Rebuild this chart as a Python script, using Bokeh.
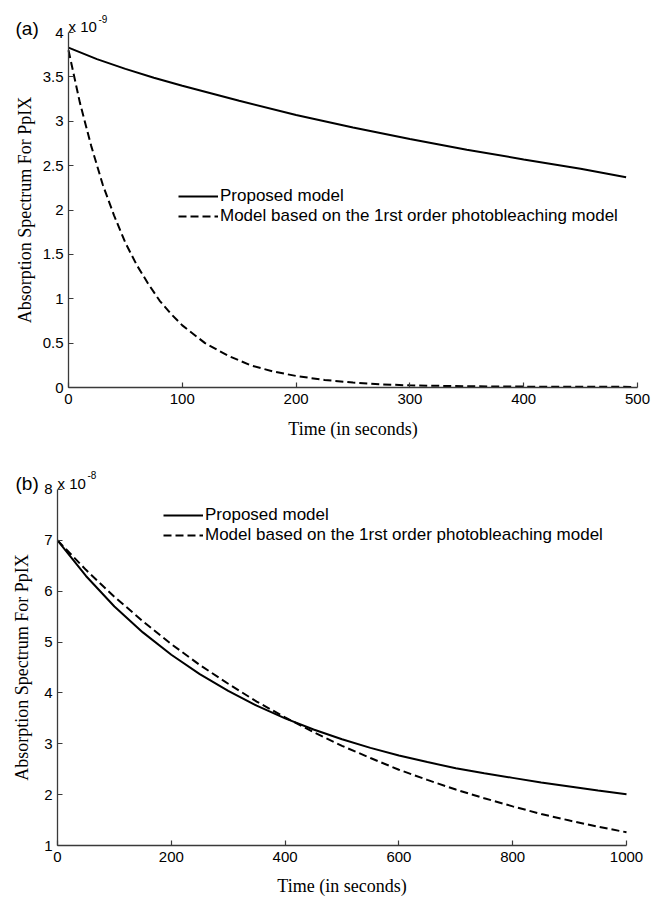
from bokeh.plotting import figure
from bokeh.models import Range1d, FixedTicker, Legend, LegendItem, Label
from bokeh.layouts import column
from bokeh.embed import file_html
from bokeh.resources import INLINE

# ---------------- data ----------------
# Panel (a): absorption spectrum (x 1e-9) vs time (s)
a_time_solid = [0, 25, 50, 75, 100, 150, 200, 250, 300, 350, 400, 450, 490]
a_solid = [3.83, 3.70, 3.59, 3.49, 3.40, 3.23, 3.07, 2.93, 2.80, 2.68, 2.57, 2.465, 2.37]

a_time_dash = [0, 10, 20, 30, 40, 50, 60, 70, 80, 90, 100, 120, 140, 160, 180,
               200, 225, 250, 275, 300, 350, 400, 450, 495]
a_dash = [3.80, 3.21, 2.72, 2.29, 1.94, 1.63, 1.38, 1.17, 0.98, 0.83, 0.70, 0.50,
          0.36, 0.25, 0.18, 0.13, 0.085, 0.055, 0.035, 0.024, 0.014, 0.010, 0.008, 0.007]

# Panel (b): absorption spectrum (x 1e-8) vs time (s)
b_time = [0, 50, 100, 150, 200, 250, 300, 350, 400, 450, 500, 550, 600, 650, 700,
          750, 800, 850, 900, 950, 1000]
b_solid = [7.00, 6.30, 5.70, 5.19, 4.75, 4.37, 4.04, 3.75, 3.50, 3.28, 3.09, 2.92,
           2.77, 2.64, 2.52, 2.42, 2.33, 2.24, 2.16, 2.08, 2.01]
b_dash = [7.00, 6.42, 5.89, 5.41, 4.96, 4.55, 4.18, 3.83, 3.52, 3.23, 2.96, 2.72,
          2.49, 2.29, 2.10, 1.93, 1.77, 1.62, 1.49, 1.37, 1.26]

a_xticks = [0, 100, 200, 300, 400, 500]
a_yticks = [0, 0.5, 1, 1.5, 2, 2.5, 3, 3.5, 4]
a_ylabels = ["0", "0.5", "1", "1.5", "2", "2.5", "3", "3.5", "4"]
b_xticks = [0, 200, 400, 600, 800, 1000]
b_yticks = [1, 2, 3, 4, 5, 6, 7, 8]
b_ylabels = ["1", "2", "3", "4", "5", "6", "7", "8"]

legend_labels = ["Proposed model", "Model based on the 1rst order photobleaching model"]
x_label = "Time (in seconds)"
y_label = "Absorption Spectrum For PpIX"

SANS = "Liberation Sans"
SERIF = "Liberation Serif"
AX = "#3a3a3a"


def style(p, xticks, yticks, ylabels, x0, y0, x_standoff, y_standoff):
    p.grid.visible = False
    p.outline_line_color = None
    p.background_fill_color = "white"
    p.border_fill_color = "white"
    xa, ya = p.xaxis[0], p.yaxis[0]
    for ax in (xa, ya):
        ax.axis_line_color = AX
        ax.axis_line_width = 1.3
        ax.major_tick_line_color = AX
        ax.major_tick_line_width = 1.2
        ax.major_tick_in = 5
        ax.major_tick_out = 0
        ax.minor_tick_in = 0
        ax.minor_tick_out = 0
        ax.major_label_text_font = SANS
        ax.major_label_text_font_size = "15px"
        ax.major_label_text_color = "black"
        ax.axis_label_text_font = SERIF
        ax.axis_label_text_font_size = "18px"
        ax.axis_label_text_font_style = "normal"
        ax.axis_label_text_color = "black"
    xa.ticker = FixedTicker(ticks=xticks)
    xa.major_label_overrides = {t: str(t) for t in xticks}
    xa.major_label_standoff = 6
    xa.axis_label_standoff = x_standoff
    xa.bounds = (xticks[0], xticks[-1])
    xa.fixed_location = y0
    ya.ticker = FixedTicker(ticks=yticks)
    ya.major_label_overrides = {t: s for t, s in zip(yticks, ylabels)}
    ya.major_label_standoff = 5
    ya.axis_label_standoff = y_standoff
    ya.bounds = (yticks[0], yticks[-1])
    ya.fixed_location = x0
    xa.axis_label = x_label
    ya.axis_label = y_label


def add_legend(p, r1, r2, loc):
    leg = Legend(items=[LegendItem(label=legend_labels[0], renderers=[r1]),
                        LegendItem(label=legend_labels[1], renderers=[r2])],
                 location=loc, orientation="vertical")
    leg.border_line_color = None
    leg.background_fill_alpha = 0
    leg.label_text_font = SANS
    leg.label_text_font_size = "17px"
    leg.label_text_color = "black"
    leg.glyph_width = 40
    leg.glyph_height = 14
    leg.label_height = 14
    leg.label_standoff = 2
    leg.spacing = 0
    leg.padding = 0
    leg.margin = 0
    p.add_layout(leg)


def add_corner_texts(p, x0, y0, panel, exp, dx_panel, dy_panel):
    p.add_layout(Label(x=x0, y=y0, text=panel, x_offset=dx_panel, y_offset=dy_panel,
                       text_font=SANS, text_font_size="19px", text_color="black",
                       text_baseline="alphabetic"))
    p.add_layout(Label(x=x0, y=y0, text="x 10", x_offset=0, y_offset=6,
                       text_font=SANS, text_font_size="15px", text_color="black",
                       text_baseline="alphabetic"))
    p.add_layout(Label(x=x0, y=y0, text=exp, x_offset=30, y_offset=14,
                       text_font=SANS, text_font_size="10px", text_color="black",
                       text_baseline="alphabetic"))


def make_fig(h, xr, yr):
    p = figure(width=661, height=h, output_backend="svg", toolbar_location=None,
               x_range=Range1d(*xr), y_range=Range1d(*yr),
               min_border_left=0, min_border_right=0, min_border_top=0, min_border_bottom=0)
    return p


# ---------------- panel (a) ----------------
# frame covers whole canvas; axes drawn at data 0 via fixed_location
pa = make_fig(442, (-59.75, 521.1), (-0.6197, 4.3606))
ra1 = pa.line(a_time_solid, a_solid, line_color="black", line_width=2)
ra2 = pa.line(a_time_dash, a_dash, line_color="black", line_width=2, line_dash="8 4")
style(pa, a_xticks, a_yticks, a_ylabels, 0, 0, 12, 5)
add_legend(pa, ra1, ra2, (178, 216))
add_corner_texts(pa, 0, 4, "(a)", "-9", -53, 4)

# ---------------- panel (b) ----------------
pb = make_fig(456, (-100.2, 1061.5), (-0.042, 8.924))
rb1 = pb.line(b_time, b_solid, line_color="black", line_width=2)
rb2 = pb.line(b_time, b_dash, line_color="black", line_width=2, line_dash="8 4")
style(pb, b_xticks, b_yticks, b_ylabels, 0, 1, 11, 9)
add_legend(pb, rb1, rb2, (163, 353))
add_corner_texts(pb, 0, 8, "(b)", "-8", -42, 6)

layout = column(pa, pb, spacing=0)
open("out.html", "w").write(file_html(layout, INLINE))
